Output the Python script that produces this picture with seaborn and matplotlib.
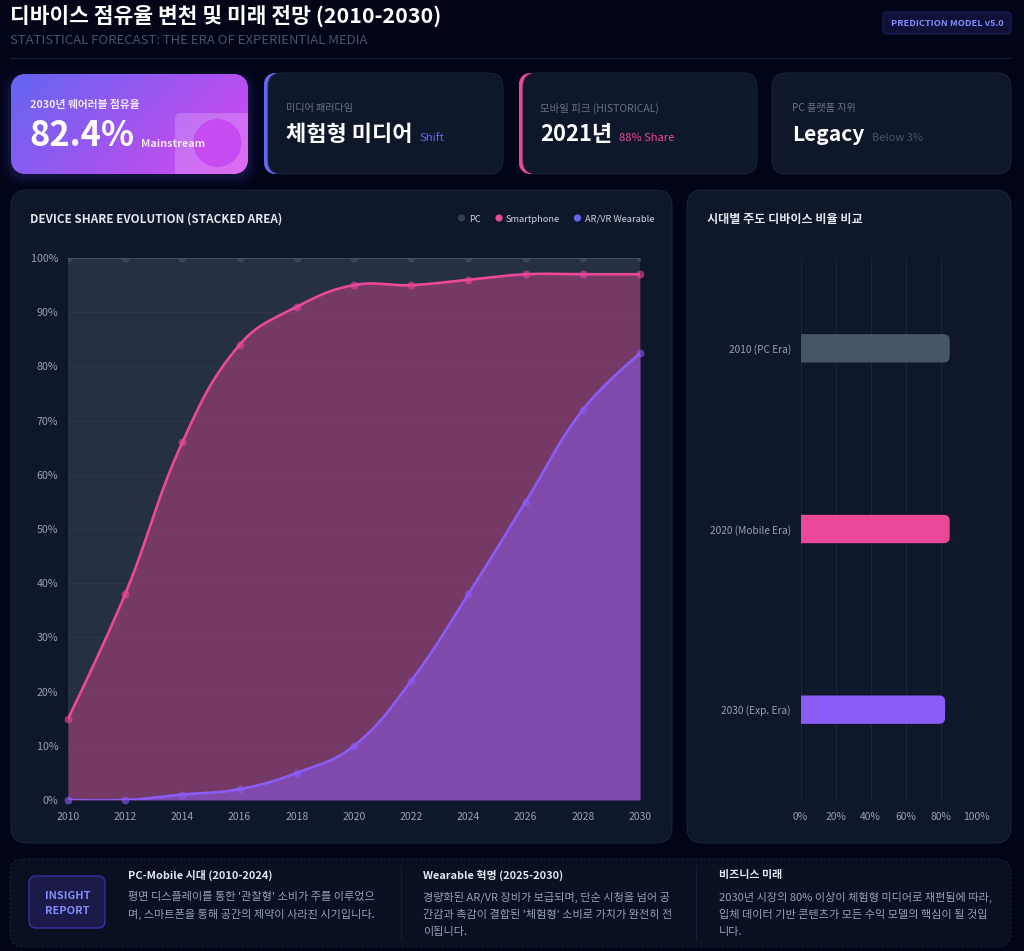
import numpy as np
import seaborn as sns
from matplotlib import pyplot as plt
from matplotlib.patches import Circle, FancyBboxPatch, PathPatch, Rectangle
from matplotlib.path import Path

years = [2010, 2012, 2014, 2016, 2018, 2020, 2022, 2024, 2026, 2028, 2030]
pc_top = [100, 100, 100, 100, 100, 100, 100, 100, 100, 100, 100]
smartphone_top = [15, 38, 66, 84, 91, 95, 95, 96, 97, 97, 97]
wearable = [0, 0, 1, 2, 5, 10, 22, 38, 55, 72, 82.4]

bar_labels = ['2010 (PC Era)', '2020 (Mobile Era)', '2030 (Exp. Era)']
bar_values = [85, 85, 82.4]
bar_colors = ['#475569', '#ec4899', '#8b5cf6']

y_ticks = [0, 10, 20, 30, 40, 50, 60, 70, 80, 90, 100]
bar_ticks = [0, 20, 40, 60, 80, 100]

BG = '#020417'
PANEL = '#0f172a'
EDGE = '#1b2638'
FONT = ['Noto Sans CJK KR', 'DejaVu Sans']

sns.set_theme(style='dark')
plt.rcParams['font.family'] = FONT
plt.rcParams['axes.unicode_minus'] = False

W, H = 1024, 951
fig = plt.figure(figsize=(W / 100, H / 100), dpi=100, facecolor=BG)


def px_axes(x0, y0, x1, y1, **kw):
    return fig.add_axes([x0 / W, 1 - y1 / H, (x1 - x0) / W, (y1 - y0) / H], **kw)


# everything that is not a chart goes on this one, in pixels
bg = px_axes(0, 0, W, H, zorder=0)
bg.set_xlim(0, W)
bg.set_ylim(H, 0)
bg.axis('off')


def card(x0, y0, x1, y1, r=14, fc=PANEL, ec=EDGE, lw=0.7, **kw):
    p = FancyBboxPatch((x0 + r, y0 + r), x1 - x0 - 2 * r, y1 - y0 - 2 * r,
                       boxstyle='round,pad=%d,rounding_size=%d' % (r, r),
                       fc=fc, ec=ec, lw=lw, **kw)
    bg.add_patch(p)
    return p


def label(x, y, s, px, color, weight='normal', ha='left', va='center', **kw):
    bg.text(x, y, s, fontsize=px * 0.72, color=color, fontweight=weight,
            ha=ha, va=va, **kw)


def accent_card(x0, y0, x1, y1, color):
    strip = card(x0, y0, x1, y1, fc=color, ec=color)
    strip.set_clip_path(Rectangle((x0, y0), 14, y1 - y0, transform=bg.transData))
    card(x0 + 4, y0, x1, y1, r=14)


def smooth(xs, ys, tension=0.4, n=24):
    # same bezier spline the smooth lines of the original use, bent in pixels
    sx, sy = 572 / 20, 542 / 100
    pts = np.column_stack([np.array(xs, float) * sx, np.array(ys, float) * sy])
    before, after = pts.copy(), pts.copy()
    for i in range(1, len(pts) - 1):
        d0 = np.hypot(*(pts[i] - pts[i - 1]))
        d1 = np.hypot(*(pts[i + 1] - pts[i]))
        span = pts[i + 1] - pts[i - 1]
        before[i] = pts[i] - tension * d0 / (d0 + d1) * span
        after[i] = pts[i] + tension * d1 / (d0 + d1) * span
    t = np.linspace(0, 1, n)[:, None]
    out = []
    for i in range(len(pts) - 1):
        a, b, c, d = pts[i], after[i], before[i + 1], pts[i + 1]
        out.append((1 - t) ** 3 * a + 3 * (1 - t) ** 2 * t * b + 3 * (1 - t) * t ** 2 * c + t ** 3 * d)
    out = np.vstack(out)
    return out[:, 0] / sx, np.minimum(out[:, 1] / sy, 100)


# header
label(10, 15.5, '디바이스 점유율 변천 및 미래 전망 (2010-2030)', 21.4, 'white', 'bold')
label(10, 40, 'STATISTICAL FORECAST: THE ERA OF EXPERIENTIAL MEDIA', 13.1, '#475569')
bg.plot([10, 1011], [57.5, 57.5], color=EDGE, lw=0.8, alpha=0.8)
card(883, 12, 1011, 34, r=4, fc='#0f1138', ec='#20235f')
label(947, 23.5, 'PREDICTION MODEL v5.0', 9.2, '#818cf8', 'bold', ha='center')

# gradient card
for grow, a in [(14, 0.02), (10, 0.03), (6, 0.05), (3, 0.07)]:
    card(11 - grow, 74 - grow + 6, 248 + grow, 174 + grow + 2, r=16 + grow, fc='#6366f1', ec='none', lw=0, alpha=a)
box = card(11, 74, 248, 174, r=16, fc='#8b5cf6', ec='none', lw=0)
gx, gy = np.meshgrid(np.linspace(0, 1, 120), np.linspace(0, 1, 50))
grad = np.clip((gx * 237 + gy * 100) / 337, 0, 1)
c0, c1 = np.array([0x63, 0x66, 0xf1]) / 255, np.array([0xd9, 0x46, 0xef]) / 255
grad_img = c0[None, None, :] * (1 - grad[..., None]) + c1[None, None, :] * grad[..., None]
im = bg.imshow(grad_img, extent=(11, 248, 174, 74), aspect='auto', zorder=1.1)
im.set_clip_path(box)
deco = FancyBboxPatch((181, 119), 80, 60, boxstyle='round,pad=6,rounding_size=6',
                      fc='white', alpha=0.2, ec='none', zorder=1.2)
bg.add_patch(deco)
deco.set_clip_path(box)
bg.add_patch(Circle((217.5, 143), 24, fc='#c64bf0', ec='none', zorder=1.3))
label(29.5, 105, '2030년 웨어러블 점유율', 10.8, '#f1e4fd', 'bold', zorder=2)
label(29.5, 136, '82.4%', 34.3, 'white', 'bold', zorder=2)
label(141, 144, 'Mainstream', 10.9, '#f3e5fd', 'bold', zorder=2)

# the other three cards
accent_card(264, 73, 503, 174, '#6366f1')
label(286, 108, '미디어 패러다임', 10.1, '#64748b')
label(286, 134.5, '체험형 미디어', 22, 'white', 'bold')
label(420, 138, 'Shift', 11.4, '#6366f1')

accent_card(519, 73, 757, 174, '#ec4899')
label(540, 108, '모바일 피크 (HISTORICAL)', 10.4, '#64748b')
label(540, 134.5, '2021년', 22, 'white', 'bold')
label(619, 138, '88% Share', 11.2, '#ec4899')

card(772, 73, 1011, 174)
label(792, 108, 'PC 플랫폼 지위', 10.1, '#64748b')
label(792, 134.5, 'Legacy', 21, 'white', 'bold')
label(872, 138, 'Below 3%', 11.1, '#475569')

# chart panels
card(11, 190, 672, 843, r=16)
card(687, 190, 1011, 843, r=16)
label(30, 219, 'DEVICE SHARE EVOLUTION (STACKED AREA)', 11.7, '#e2e8f0', 'bold')
label(707, 219, '시대별 주도 디바이스 비율 비교', 12.1, '#e2e8f0', 'bold')

legend_items = [(461.5, 469, 'PC', '#334155'), (499, 506, 'Smartphone', '#ec4899'),
                (577.5, 585, 'AR/VR Wearable', '#6366f1')]
for dot_x, text_x, name, col in legend_items:
    bg.add_patch(Circle((dot_x, 218), 3.6, fc=col, ec='none'))
    label(text_x, 219, name, 9.3, '#cbd5e1')

# area chart
ax = px_axes(68, 258, 640, 800, zorder=2)
ax.patch.set_alpha(0)
series = [(pc_top, '#475569', 0.42, 1.2), (smartphone_top, '#ec4899', 0.4, 1.9), (wearable, '#8b5cf6', 0.5, 1.9)]
for values, col, alpha, lw in series:
    xs, ys = smooth(years, values)
    ax.fill_between(xs, 0, ys, color=col, alpha=alpha, lw=0, zorder=1)
for values, col, alpha, lw in series:
    xs, ys = smooth(years, values)
    sns.lineplot(x=xs, y=ys, color=col, lw=lw, estimator=None, sort=False, legend=False, ax=ax, zorder=3)
    dots = sns.scatterplot(x=years, y=values, color=col, s=32, linewidth=0, alpha=0.6, legend=False, ax=ax, zorder=4)
    dots.collections[-1].set_clip_on(values is pc_top)
for line in ax.lines:
    line.set_solid_capstyle('round')
ax.set_xlim(2010, 2030)
ax.set_ylim(0, 100)
ax.set_xticks(years)
ax.set_yticks(y_ticks)
ax.set_yticklabels(['%d%%' % v for v in y_ticks])
ax.set_xlabel('')
ax.set_ylabel('')
ax.grid(False)
ax.yaxis.grid(True, color='#94a3b8', alpha=0.09, lw=0.8, zorder=0)
ax.set_axisbelow(True)
ax.tick_params(axis='x', length=0, pad=9, labelsize=7.5, labelcolor='#94a3b8')
ax.tick_params(axis='y', length=0, pad=7, labelsize=7.7, labelcolor='#94a3b8')
sns.despine(ax=ax, left=True, bottom=True)

# bar chart
ax2 = px_axes(800.5, 258, 976, 800, zorder=2)
ax2.patch.set_alpha(0)
sns.barplot(x=bar_values, y=bar_labels, hue=bar_labels, palette=bar_colors, width=0.157,
            saturation=1, legend=False, orient='h', ax=ax2)
ax2.set_xlim(0, 100)
ax2.set_ylim(2.5, -0.5)
rx, ry = 6 * 100 / 175.5, 6 * 3 / 542
for bar in list(ax2.patches):
    x0, y0 = bar.get_x(), bar.get_y()
    x1, y1 = x0 + bar.get_width(), y0 + bar.get_height()
    verts = [(x0, y0), (x1 - rx, y0), (x1, y0), (x1, y0 + ry), (x1, y1 - ry), (x1, y1), (x1 - rx, y1), (x0, y1), (x0, y0)]
    codes = [Path.MOVETO, Path.LINETO, Path.CURVE3, Path.CURVE3, Path.LINETO, Path.CURVE3, Path.CURVE3, Path.LINETO, Path.CLOSEPOLY]
    ax2.add_patch(PathPatch(Path(verts, codes), fc=bar.get_facecolor(), ec='none', zorder=3))
    bar.remove()
ax2.set_xticks(bar_ticks)
ax2.set_xticklabels(['%d%%' % v for v in bar_ticks])
ax2.set_xlabel('')
ax2.set_ylabel('')
ax2.grid(False)
ax2.xaxis.grid(True, color='#94a3b8', alpha=0.1, lw=0.8, zorder=0)
ax2.set_axisbelow(True)
ax2.tick_params(axis='x', length=0, pad=9, labelsize=7.4, labelcolor='#94a3b8')
ax2.tick_params(axis='y', length=0, pad=7, labelsize=7.3, labelcolor='#94a3b8')
sns.despine(ax=ax2, left=True, bottom=True)

# insight strip
card(10, 859, 1011, 947, r=14, fc='#0a0f22', ec=EDGE, lw=0.8, linestyle=(0, (2, 2)))
card(29, 876, 105, 928, r=7, fc='#1c1a49', ec='#3730a3', lw=1)
label(67.5, 896, 'INSIGHT', 11, '#818cf8', 'bold', ha='center')
label(67.5, 911, 'REPORT', 11, '#818cf8', 'bold', ha='center')
bg.plot([400.5, 400.5], [865, 940], color=EDGE, lw=0.8, alpha=0.7)
bg.plot([695.5, 695.5], [865, 940], color=EDGE, lw=0.8, alpha=0.7)

notes = [
    (128, 'PC-Mobile 시대 (2010-2024)',
     ["평면 디스플레이를 통한 '관찰형' 소비가 주를 이루었으",
      '며, 스마트폰을 통해 공간의 제약이 사라진 시기입니다.']),
    (423, 'Wearable 혁명 (2025-2030)',
     ['경량화된 AR/VR 장비가 보급되며, 단순 시청을 넘어 공',
      "간감과 촉감이 결합된 '체험형' 소비로 가치가 완전히 전",
      '이됩니다.']),
    (719, '비즈니스 미래',
     ['2030년 시장의 80% 이상이 체험형 미디어로 재편됨에 따라,',
      '입체 데이터 기반 콘텐츠가 모든 수익 모델의 핵심이 될 것입',
      '니다.']),
]
for x, head, lines in notes:
    label(x, 875, head, 11, '#e2e8f0', 'bold')
    for i, line in enumerate(lines):
        label(x, 897 + i * 17.5, line, 11.1, '#94a3b8')

fig.savefig('out.png', dpi=100, facecolor=BG)
